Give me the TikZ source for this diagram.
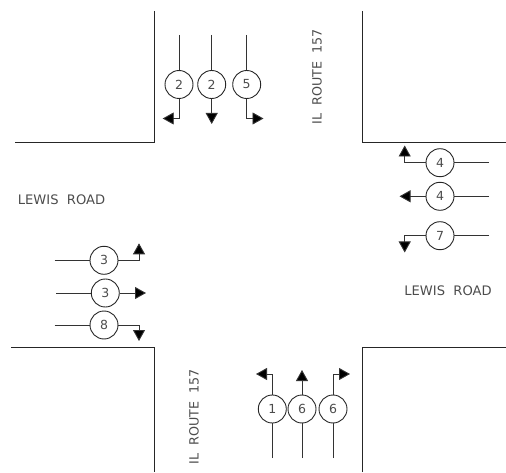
\documentclass[tikz,border=0pt]{standalone}
\usepackage{fontspec}
\setmainfont{DejaVu Sans}
\usetikzlibrary{arrows.meta}
\tikzset{
  sig/.style={circle,draw=black!85,line width=0.9pt,minimum size=28pt,inner sep=0pt,font=\fontsize{12.5}{14}\selectfont,text=black!70},
  curb/.style={draw=black!85,line width=0.8pt},
  feed/.style={draw=black!80,line width=0.9pt},
  mv/.style={draw=black!80,line width=0.9pt,-{Triangle[length=11pt,width=12pt,fill=black]}},
  road/.style={font=\fontsize{13.1}{15}\selectfont,text=black!70,inner sep=0pt},
  route/.style={font=\fontsize{12.7}{15}\selectfont,text=black!70,inner sep=0pt,rotate=90}
}
\begin{document}
\begin{tikzpicture}[x=1pt,y=-1pt]
\useasboundingbox (0,0) rectangle (506,473);
% curbs
\draw[curb] (154.5,11) -- (154.5,142.5) -- (15,142.5);
\draw[curb] (362,11) -- (362,142.5) -- (506,142.5);
\draw[curb] (11,347.5) -- (154.5,347.5) -- (154.5,472);
\draw[curb] (362,472) -- (362,347.5) -- (506,347.5);
% top
\node[sig] (t1) at (179,84.5) {2};
\node[sig] (t2) at (211.7,84.5) {2};
\node[sig] (t3) at (246.7,84.5) {5};
\coordinate (t1s) at (179,35); \coordinate (t2s) at (211.7,35); \coordinate (t3s) at (246.7,35);
\draw[feed] (t1s) -- (t1); \draw[feed] (t2s) -- (t2); \draw[feed] (t3s) -- (t3);
\coordinate (t1e) at (162.7,118.5); \coordinate (t2e) at (211.7,124); \coordinate (t3e) at (263.5,118.5);
\draw[mv] (t1) |- (t1e); \draw[mv] (t2) -- (t2e); \draw[mv] (t3) |- (t3e);
% right
\node[sig] (r1) at (440,162.7) {4};
\node[sig] (r2) at (440,196.3) {4};
\node[sig] (r3) at (440,235.7) {7};
\coordinate (r1s) at (489,162.7); \coordinate (r2s) at (489,196.3); \coordinate (r3s) at (489,235.7);
\draw[feed] (r1s) -- (r1); \draw[feed] (r2s) -- (r2); \draw[feed] (r3s) -- (r3);
\coordinate (r1e) at (404.7,145.5); \coordinate (r2e) at (399.5,196.3); \coordinate (r3e) at (404.7,252.5);
\draw[mv] (r1) -| (r1e); \draw[mv] (r2) -- (r2e); \draw[mv] (r3) -| (r3e);
% left
\node[sig] (l1) at (104,260.3) {3};
\node[sig] (l2) at (105.3,293) {3};
\node[sig] (l3) at (104,325) {8};
\coordinate (l1s) at (54.5,260.3); \coordinate (l2s) at (56,293); \coordinate (l3s) at (54.5,325);
\draw[feed] (l1s) -- (l1); \draw[feed] (l2s) -- (l2); \draw[feed] (l3s) -- (l3);
\coordinate (l1e) at (139,243.3); \coordinate (l2e) at (146,293); \coordinate (l3e) at (139,341);
\draw[mv] (l1) -| (l1e); \draw[mv] (l2) -- (l2e); \draw[mv] (l3) -| (l3e);
% bottom
\node[sig] (b1) at (272.3,409) {1};
\node[sig] (b2) at (302,409) {6};
\node[sig] (b3) at (333,409) {6};
\coordinate (b1s) at (272.3,458); \coordinate (b2s) at (302,458); \coordinate (b3s) at (333,458);
\draw[feed] (b1s) -- (b1); \draw[feed] (b2s) -- (b2); \draw[feed] (b3s) -- (b3);
\coordinate (b1e) at (256,374); \coordinate (b2e) at (302,370); \coordinate (b3e) at (350,374);
\draw[mv] (b1) |- (b1e); \draw[mv] (b2) -- (b2e); \draw[mv] (b3) |- (b3e);
% labels
\node[road] (n1) at (61.5,199.5) {LEWIS\ \ ROAD};
\node[road] (n2) at (448,291) {LEWIS\ \ ROAD};
\node[route] (n3) at (317,77) {IL\ \ ROUTE\ \ 157};
\node[route] (n4) at (194,416.5) {IL\ \ ROUTE\ \ 157};
\end{tikzpicture}
\end{document}
